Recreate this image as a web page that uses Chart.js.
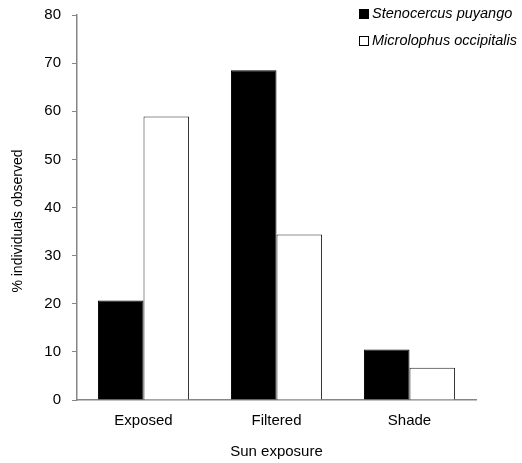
<!DOCTYPE html>
<html>
<head>
<meta charset="utf-8">
<script src="https://cdn.jsdelivr.net/npm/chart.js@4"></script>
<style>
  body { margin: 0; background: #fff; }
</style>
</head>
<body>
<canvas id="myChart" width="522" height="463"></canvas>
<script>
const categorias = ["Exposed", "Filtered", "Shade"];
const stenocercus = [20.7, 68.5, 10.5];
const microlophus = [58.9, 34.4, 6.7];
const ticksY = [0, 10, 20, 30, 40, 50, 60, 70, 80];
const tituloY = "% individuals observed";

const ctx = document.getElementById("myChart");
const fuente = "'Liberation Sans', Arial, sans-serif";

// leyenda arriba a la derecha y titulo del eje y
const extras = {
  id: "extras",
  afterDraw(chart) {
    const c = chart.ctx;
    c.save();
    c.font = "italic 14.5px " + fuente;
    c.textBaseline = "middle";
    chart.data.datasets.forEach((ds, i) => {
      const y = 14 + i * 27;
      c.fillStyle = ds.backgroundColor;
      c.fillRect(359, y - 5, 10, 10);
      c.strokeStyle = "#000";
      c.lineWidth = 1;
      c.strokeRect(359.5, y - 4.5, 9, 9);
      c.fillStyle = "#000";
      c.fillText(ds.label, 372, y);
    });
    c.translate(18, 221);
    c.rotate(-Math.PI / 2);
    c.font = "14px " + fuente;
    c.textAlign = "center";
    c.fillText(tituloY, 0, 0);
    c.restore();
  },
};

new Chart(ctx, {
  type: "bar",
  data: {
    labels: categorias,
    datasets: [
      {
        label: "Stenocercus puyango",
        data: stenocercus,
        backgroundColor: "#000000",
        borderColor: "#000000",
        borderWidth: 1,
      },
      {
        label: "Microlophus occipitalis",
        data: microlophus,
        backgroundColor: "#ffffff",
        borderColor: "#222222",
        borderWidth: 1,
      },
    ],
  },
  options: {
    responsive: false,
    animation: false,
    layout: { padding: { top: 15, right: 46, left: 0, bottom: 0 } },
    plugins: { legend: { display: false }, tooltip: { enabled: false } },
    datasets: { bar: { categoryPercentage: 0.685, barPercentage: 1 } },
    scales: {
      x: {
        afterFit: (s) => { s.height = 63; },
        grid: { display: false, drawTicks: false },
        border: { color: "#868686", width: 1.5 },
        ticks: { color: "#000", font: { family: fuente, size: 15 }, padding: 12 },
        title: {
          display: true,
          text: "Sun exposure",
          color: "#000",
          font: { family: fuente, size: 15 },
          padding: { top: 0, bottom: 2 },
        },
      },
      y: {
        min: 0,
        max: 80,
        afterBuildTicks: (s) => { s.ticks = ticksY.map((v) => ({ value: v })); },
        afterFit: (s) => { s.width = 77; s.paddingTop = 0; s.paddingBottom = 0; },
        grid: { drawOnChartArea: false, color: "#868686", tickLength: 5 },
        border: { color: "#868686", width: 1.5 },
        ticks: { color: "#000", font: { family: fuente, size: 15 }, padding: 11 },
      },
    },
  },
  plugins: [extras],
});
</script>
</body>
</html>
